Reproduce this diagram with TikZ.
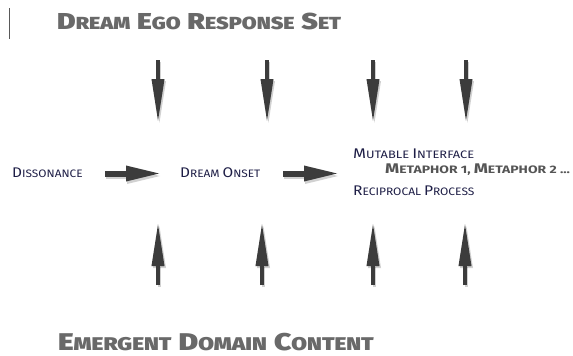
\documentclass[tikz,border=0pt]{standalone}
\usepackage{fontspec}
\usepackage{graphicx}
\setmainfont{Fira Sans}
\newfontfamily\titlefont{Fira Sans Black}
\usetikzlibrary{arrows.meta}
\definecolor{arrowgray}{RGB}{60,60,60}
\definecolor{titlegray}{RGB}{105,105,105}
\definecolor{labelnavy}{RGB}{30,30,70}
\definecolor{metagray}{RGB}{85,85,85}
\newcommand{\tsc}[2]{{\fontsize{23}{23}\selectfont #1}{\fontsize{17.5}{17.5}\selectfont #2}}
\newcommand{\lsc}[2]{{\fontsize{14}{14}\selectfont #1}{\fontsize{10.8}{10.8}\selectfont #2}}
\newcommand{\tgap}{\hspace{5.5pt}}
\tikzset{
  titletext/.style={inner sep=0pt, anchor=base west, text=titlegray, font=\titlefont},
  labeltext/.style={inner sep=0pt, anchor=base west, text=labelnavy},
  metatext/.style={inner sep=0pt, anchor=base west, text=metagray, font=\bfseries},
  harrow/.style={draw=arrowgray, line width=6pt, -{Triangle[length=36pt,width=14pt]}},
  varrow/.style={draw=arrowgray, line width=3.5pt, -{Triangle[length=43pt,width=12pt]}},
  hshadow/.style={harrow, draw=black, opacity=0.18, transform canvas={shift={(1,2.5)}}},
  vshadow/.style={varrow, draw=black, opacity=0.18, transform canvas={shift={(1.5,2)}}},
}
\begin{document}
\begin{tikzpicture}[x=1pt,y=-1pt]
\useasboundingbox (0,0) rectangle (573,356);
\draw[line width=0.9pt, color=black!65] (9,8) -- (9,39);
% titles
\node[titletext] (top) at (57,29) {\scalebox{1.23}[1]{\tsc{D}{REAM}\tgap\tsc{E}{GO}\tgap\tsc{R}{ESPONSE}\tgap\tsc{S}{ET}}};
\node[titletext] (bottom) at (58,350) {\scalebox{1.30}[1.05]{\tsc{E}{MERGENT}\tgap\tsc{D}{OMAIN}\tgap\tsc{C}{ONTENT}}};
% labels
\node[labeltext] (diss) at (12,177) {\scalebox{1.10}[1]{\lsc{D}{ISSONANCE}}};
\node[labeltext] (onset) at (180,177) {\scalebox{1.10}[1]{\lsc{D}{REAM} \lsc{O}{NSET}}};
\node[labeltext] (mut) at (353,158.5) {\scalebox{1.19}[1]{\lsc{M}{UTABLE} \lsc{I}{NTERFACE}}};
\node[metatext] (meta) at (385,173.3) {\scalebox{1.29}[1]{\lsc{M}{ETAPHOR 1,} \lsc{M}{ETAPHOR 2 ...}}};
\node[labeltext] (recip) at (353,195) {\scalebox{1.11}[1]{\lsc{R}{ECIPROCAL} \lsc{P}{ROCESS}}};
% horizontal arrow coordinates
\coordinate (h1s) at (105,173.5); \coordinate (h1e) at (162,173.5);
\coordinate (h2s) at (283,173.5); \coordinate (h2e) at (340,173.5);
\foreach \s/\e in {h1s/h1e, h2s/h2e} {
  \draw[hshadow] (\s) -- (\e);
  \draw[harrow] (\s) -- (\e);
}
% vertical arrows
\foreach \i/\xd/\xu in {1/158/158, 2/267/262, 3/373/373, 4/466/465} {
  \coordinate (d\i s) at (\xd,60); \coordinate (d\i e) at (\xd,122);
  \coordinate (u\i s) at (\xu,285); \coordinate (u\i e) at (\xu,223);
  \draw[vshadow] (d\i s) -- (d\i e);
  \draw[varrow] (d\i s) -- (d\i e);
  \draw[vshadow] (u\i s) -- (u\i e);
  \draw[varrow] (u\i s) -- (u\i e);
}
\end{tikzpicture}
\end{document}
